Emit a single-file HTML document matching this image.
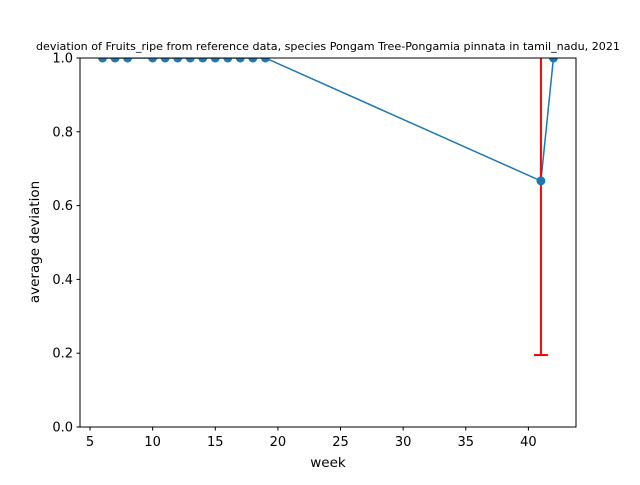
<!DOCTYPE html>
<html><head><meta charset="utf-8"><style>
body{margin:0;background:#fff;font-family:"Liberation Sans","DejaVu Sans",sans-serif;}
svg text{font-family:"DejaVu Sans","Liberation Sans",sans-serif;}
</style></head><body>
<svg id="c" width="640" height="480">
<rect width="640" height="480" fill="#fff"/>
<text x="328" y="50" font-size="11" text-anchor="middle" textLength="584" lengthAdjust="spacingAndGlyphs">deviation of Fruits_ripe from reference data, species Pongam Tree-Pongamia pinnata in tamil_nadu, 2021</text>
<text x="328" y="467" font-size="13.5" text-anchor="middle">week</text>
<text x="39" y="242" font-size="13.5" text-anchor="middle" transform="rotate(-90 39 242)">average deviation</text>
<defs><clipPath id="clip"><rect x="80" y="58" width="496" height="369"/></clipPath></defs>
<g id="ticks"></g>
<g id="plot" clip-path="url(#clip)"></g>
<rect x="80" y="58" width="496" height="369" fill="none" stroke="#000" stroke-width="1"/>
</svg>
<script>
const weeks=[6,7,8,10,11,12,13,14,15,16,17,18,19,41,42];
const values=[1,1,1,1,1,1,1,1,1,1,1,1,1,0.667,1];
const errWeeks=[41];
const errLow=[0.472];
const errHigh=[0.472];
const xTicks=[5,10,15,20,25,30,35,40];
const yTicks=[0,0.2,0.4,0.6,0.8,1.0];
const NS="http://www.w3.org/2000/svg";
const X=v=>80+(v-4.2)/39.6*496, Y=v=>427-v*369;
function mk(t,a,p){const e=document.createElementNS(NS,t);for(const k in a)e.setAttribute(k,a[k]);p.appendChild(e);return e;}
const tg=document.getElementById('ticks'),pg=document.getElementById('plot');
xTicks.forEach(t=>{const x=X(t);
 const l=mk('line',{x1:x,x2:x,y1:427,y2:430.5,stroke:'#000'},tg);
 
 
 const s=mk('text',{x:x,y:446,'font-size':13,'text-anchor':'middle'},tg);s.textContent=t;
 
 });
yTicks.forEach(t=>{const y=Y(t);
 const l=mk('line',{x1:76.5,x2:80,y1:y,y2:y,stroke:'#000'},tg);
 
 
 const s=mk('text',{x:73,y:y+4.5,'font-size':13,'text-anchor':'end'},tg);s.textContent=t.toFixed(1);
 
 });
const line=mk('polyline',{points:weeks.map((w,i)=>X(w)+','+Y(values[i])).join(' '),fill:'none',stroke:'#1f77b4','stroke-width':1.5},pg);


errWeeks.forEach((w,i)=>{const v=values[weeks.indexOf(w)];const x=X(w);
 const lo=Y(v-errLow[i]),hi=Y(v+errHigh[i]);
 const e=mk('line',{x1:x,x2:x,y1:lo,y2:hi,stroke:'red','stroke-width':2},pg);
 
 
 [lo,hi].forEach(y=>{const c=mk('line',{x1:x-7,x2:x+7,y1:y,y2:y,stroke:'red','stroke-width':2},pg);
 
 });});
weeks.forEach((w,i)=>{const c=mk('circle',{cx:X(w),cy:Y(values[i]),r:4.5,fill:'#1f77b4'},pg);
 
 });
</script>
</body></html>
